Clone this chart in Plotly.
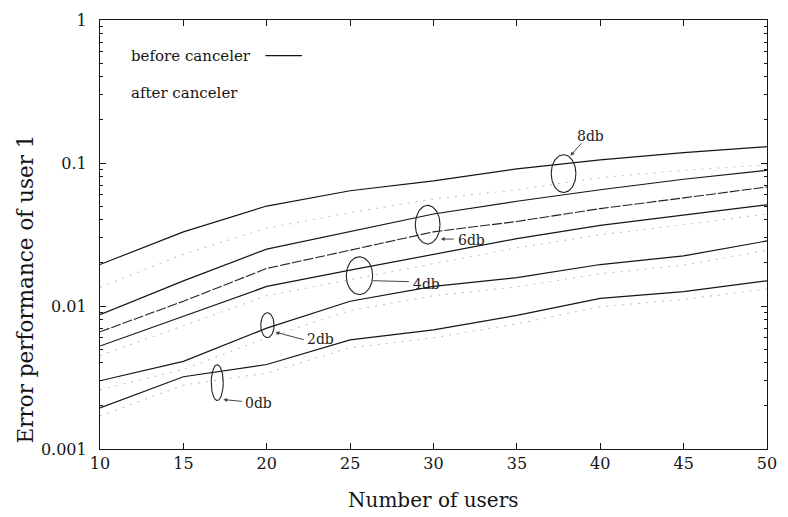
import numpy as np
import plotly.graph_objects as go

# ---------------- data ----------------
users = [10, 15, 20, 25, 30, 35, 40, 45, 50]

# before canceler (solid)
before_8db = [0.0195, 0.033, 0.050, 0.064, 0.075, 0.091, 0.105, 0.118, 0.130]
before_6db = [0.0087, 0.015, 0.025, 0.033, 0.044, 0.054, 0.065, 0.077, 0.089]
before_4db = [0.00525, 0.0085, 0.0137, 0.0178, 0.023, 0.0296, 0.0366, 0.043, 0.051]
before_2db = [0.0030, 0.0041, 0.0070, 0.0108, 0.0137, 0.0158, 0.0195, 0.0224, 0.0285]
before_0db = [0.00194, 0.0032, 0.0039, 0.0058, 0.0068, 0.0086, 0.0113, 0.0126, 0.0150]

# after canceler
after_8db = [0.0135, 0.023, 0.035, 0.045, 0.056, 0.065, 0.079, 0.089, 0.097]
after_6db = [0.0066, 0.0108, 0.0183, 0.0246, 0.033, 0.039, 0.048, 0.057, 0.068]
after_4db = [0.0045, 0.0073, 0.0118, 0.0153, 0.0198, 0.0255, 0.0315, 0.037, 0.044]
after_2db = [0.0026, 0.0036, 0.0060, 0.0093, 0.0118, 0.0136, 0.0168, 0.0193, 0.0245]
after_0db = [0.0017, 0.0028, 0.0034, 0.0051, 0.0060, 0.0075, 0.0099, 0.0111, 0.0132]

x_ticks = [10, 15, 20, 25, 30, 35, 40, 45, 50]
y_ticks = [0.001, 0.01, 0.1, 1]
y_tick_labels = ["0.001", "0.01", "0.1", "1"]
y_minor_ticks = [0.002, 0.003, 0.004, 0.005, 0.006, 0.007, 0.008, 0.009,
                 0.02, 0.03, 0.04, 0.05, 0.06, 0.07, 0.08, 0.09,
                 0.2, 0.3, 0.4, 0.5, 0.6, 0.7, 0.8, 0.9]

snr_labels = ["8db", "6db", "4db", "2db", "0db"]

FONT = "DejaVu Serif, Liberation Serif, serif"
INK = "#151515"

fig = go.Figure()

solid = dict(color=INK, width=1.2)
dotted = dict(color="#c2c2c2", width=1.1, dash="2px,6px")

for ys in [before_8db, before_6db, before_4db, before_2db, before_0db]:
    fig.add_trace(go.Scatter(x=users, y=ys, mode="lines", line=solid,
                             showlegend=False, hoverinfo="skip"))

for ys in [after_8db, after_4db, after_2db, after_0db]:
    fig.add_trace(go.Scatter(x=users, y=ys, mode="lines", line=dotted,
                             showlegend=False, hoverinfo="skip"))

fig.add_trace(go.Scatter(x=users, y=after_6db, mode="lines",
                         line=dict(color="#222222", width=1.1, dash="10px,2px"),
                         showlegend=False, hoverinfo="skip"))

# ---------------- ellipses & labels ----------------
ellipses = [
    # (x centre, log10 y centre, x half-width, log half-height)
    (37.8, -1.074, 0.74, 0.132),
    (29.65, -1.431, 0.74, 0.135),
    (25.56, -1.788, 0.79, 0.132),
    (20.04, -2.134, 0.40, 0.087),
    (17.03, -2.536, 0.36, 0.125),
]
label_pos = [(39.42, -0.811), (32.3, -1.538), (29.55, -1.843), (23.2, -2.231), (19.5, -2.675)]
arrows = [
    ((38.21, -0.949), (38.95, -0.852), 1),
    ((30.44, -1.532), (31.3, -1.532), 1),
    ((26.37, -1.823), (28.6, -1.830), 0),
    ((20.52, -2.183), (22.3, -2.238), 1),
    ((17.39, -2.654), (18.6, -2.668), 1),
]

t = np.linspace(0, 2 * np.pi, 80)
for (xc, yc, rx, ry) in ellipses:
    fig.add_trace(go.Scatter(x=xc + rx * np.cos(t), y=10 ** (yc + ry * np.sin(t)),
                             mode="lines", line=dict(color="#222222", width=1.1),
                             showlegend=False, hoverinfo="skip"))

for lab, (lx, ly) in zip(snr_labels, label_pos):
    fig.add_annotation(x=lx, y=ly, xref="x", yref="y", text=lab, showarrow=False,
                       font=dict(family=FONT, size=14, color="#222222"))

for (head, tail, hs) in arrows:
    fig.add_annotation(x=head[0], y=head[1], ax=tail[0], ay=tail[1],
                       xref="x", yref="y", axref="x", ayref="y", text="",
                       showarrow=True, arrowhead=2 if hs else 0, arrowsize=0.8,
                       arrowwidth=1, arrowcolor="#444444")

# ---------------- legend (text then line sample) ----------------
fig.add_annotation(x=0.044, y=0.917, xref="paper", yref="paper", xanchor="left",
                   yanchor="middle", text="before canceler", showarrow=False,
                   font=dict(family=FONT, size=15, color=INK))
fig.add_annotation(x=0.044, y=0.831, xref="paper", yref="paper", xanchor="left",
                   yanchor="middle", text="after canceler", showarrow=False,
                   font=dict(family=FONT, size=15, color=INK))
fig.add_shape(type="line", xref="paper", yref="paper",
              x0=0.248, x1=0.303, y0=0.917, y1=0.917,
              line=dict(color=INK, width=1.2))

# ---------------- axis titles ----------------
fig.add_annotation(x=0.5, y=-0.118, xref="paper", yref="paper",
                   xanchor="center", yanchor="middle", text="Number of users",
                   showarrow=False, font=dict(family=FONT, size=20, color=INK))
fig.add_annotation(x=-0.111, y=0.374, xref="paper", yref="paper",
                   xanchor="center", yanchor="middle", textangle=-90,
                   text="Error performance of user 1",
                   showarrow=False, font=dict(family=FONT, size=21.5, color=INK))

axis_common = dict(
    showline=True, linecolor=INK, linewidth=1.2, mirror="ticks",
    ticks="inside", ticklen=6, tickcolor=INK, showgrid=False, zeroline=False,
    tickfont=dict(family=FONT, size=16, color=INK),
)

fig.update_xaxes(range=[10, 50], tickvals=x_ticks, **axis_common)
fig.update_yaxes(type="log", range=[-3, 0], tickvals=y_ticks, ticktext=y_tick_labels,
                 minor=dict(tickvals=y_minor_ticks, ticks="inside", ticklen=3,
                            tickcolor=INK, showgrid=False),
                 ticklabelstandoff=9,
                 **axis_common)

fig.update_layout(
    width=788, height=517,
    margin=dict(l=100, r=11, t=16, b=68),
    plot_bgcolor="white", paper_bgcolor="white",
    showlegend=False,
    font=dict(family=FONT, color=INK),
)

fig.write_html("out.html")
